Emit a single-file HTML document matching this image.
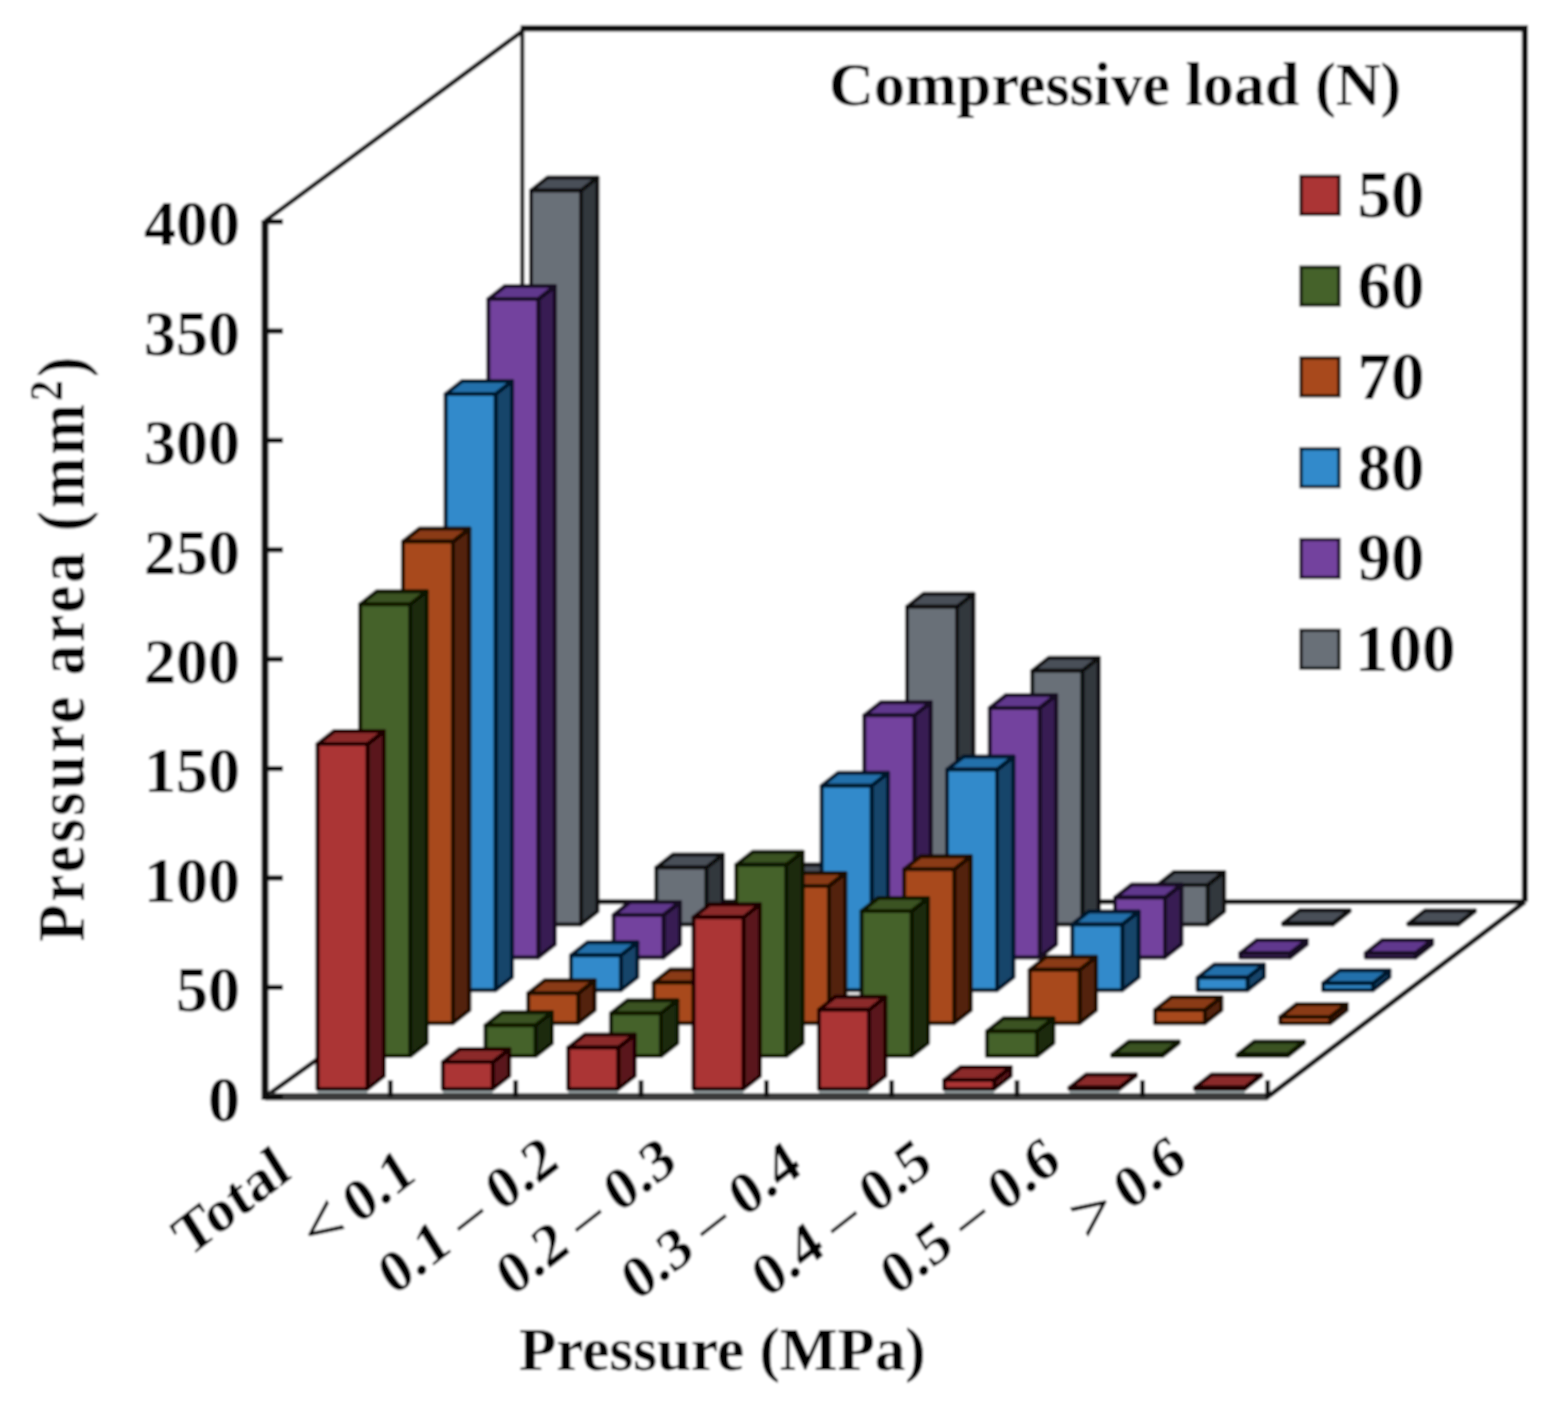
<!DOCTYPE html>
<html><head><meta charset="utf-8"><title>Pressure area chart</title>
<style>html,body{margin:0;padding:0;background:#fff;}svg{display:block;}text{font-family:"Liberation Serif","Times New Roman",serif;font-weight:bold;fill:#000;}</style>
</head><body>
<svg width="1549" height="1402" viewBox="0 0 1549 1402">
<defs><filter id="bl" x="0" y="0" width="1549" height="1402" filterUnits="userSpaceOnUse"><feGaussianBlur stdDeviation="0.8"/></filter></defs>
<g filter="url(#bl)">
<rect width="1549" height="1402" fill="#fff"/>
<g fill="none" stroke="#111" stroke-width="5" stroke-linejoin="miter">
<line stroke="#2a2a2a" stroke-width="4.4" x1="522.2" y1="901.8" x2="522.2" y2="28.3"/>
<polyline stroke-width="6.2" points="520.7,28.3 1524.9,28.3 1524.9,901.8"/>
<line x1="522.2" y1="901.8" x2="1524.9" y2="901.8"/>
<line stroke-width="4.6" x1="265" y1="221" x2="522.2" y2="31.3"/>
<line stroke-width="4.6" x1="265" y1="1096.8" x2="522.2" y2="912.6"/>
</g>
<rect x="317.5" y="1090.2" width="50" height="4.8" fill="#9aa5a7"/>
<rect x="442.8" y="1090.2" width="50" height="4.8" fill="#9aa5a7"/>
<rect x="568.2" y="1090.2" width="50" height="4.8" fill="#9aa5a7"/>
<rect x="693.5" y="1090.2" width="50" height="4.8" fill="#9aa5a7"/>
<rect x="818.9" y="1090.2" width="50" height="4.8" fill="#9aa5a7"/>
<rect x="944.2" y="1090.2" width="50" height="4.8" fill="#9aa5a7"/>
<rect x="1069.5" y="1090.2" width="50" height="4.8" fill="#9aa5a7"/>
<rect x="1194.9" y="1090.2" width="50" height="4.8" fill="#9aa5a7"/>
<g stroke-width="4" stroke-linejoin="round">
<g stroke="#0c0e10">
<polygon fill="#33373c" points="581,924.5 597.5,911.5 597.5,177.5 581,190.5"/>
<polygon fill="#4a5058" points="531,190.5 547.5,177.5 597.5,177.5 581,190.5"/>
<rect fill="#696f78" x="531" y="190.5" width="50" height="734"/>
</g>
<g stroke="#0c0e10">
<polygon fill="#33373c" points="706.3,924.5 722.8,911.5 722.8,854.6 706.3,867.6"/>
<polygon fill="#4a5058" points="656.3,867.6 672.8,854.6 722.8,854.6 706.3,867.6"/>
<rect fill="#696f78" x="656.3" y="867.6" width="50" height="56.9"/>
</g>
<g stroke="#0c0e10">
<polygon fill="#33373c" points="831.7,924.5 848.2,911.5 848.2,864.5 831.7,877.5"/>
<polygon fill="#4a5058" points="781.7,877.5 798.2,864.5 848.2,864.5 831.7,877.5"/>
<rect fill="#696f78" x="781.7" y="877.5" width="50" height="47"/>
</g>
<g stroke="#0c0e10">
<polygon fill="#33373c" points="957,924.5 973.5,911.5 973.5,593.7 957,606.7"/>
<polygon fill="#4a5058" points="907,606.7 923.5,593.7 973.5,593.7 957,606.7"/>
<rect fill="#696f78" x="907" y="606.7" width="50" height="317.8"/>
</g>
<g stroke="#0c0e10">
<polygon fill="#33373c" points="1082.3,924.5 1098.8,911.5 1098.8,657.8 1082.3,670.8"/>
<polygon fill="#4a5058" points="1032.3,670.8 1048.8,657.8 1098.8,657.8 1082.3,670.8"/>
<rect fill="#696f78" x="1032.3" y="670.8" width="50" height="253.7"/>
</g>
<g stroke="#0c0e10">
<polygon fill="#33373c" points="1207.7,924.5 1224.2,911.5 1224.2,871.9 1207.7,884.9"/>
<polygon fill="#4a5058" points="1157.7,884.9 1174.2,871.9 1224.2,871.9 1207.7,884.9"/>
<rect fill="#696f78" x="1157.7" y="884.9" width="50" height="39.6"/>
</g>
<g stroke="#0c0e10">
<polygon fill="#33373c" points="1333,924.5 1349.5,911.5 1349.5,910.2 1333,923.2"/>
<polygon fill="#4a5058" points="1283,923.2 1299.5,910.2 1349.5,910.2 1333,923.2"/>
<rect fill="#696f78" x="1283" y="923.2" width="50" height="1.3"/>
</g>
<g stroke="#0c0e10">
<polygon fill="#33373c" points="1458.4,924.5 1474.9,911.5 1474.9,910.5 1458.4,923.5"/>
<polygon fill="#4a5058" points="1408.4,923.5 1424.9,910.5 1474.9,910.5 1458.4,923.5"/>
<rect fill="#696f78" x="1408.4" y="923.5" width="50" height="1"/>
</g>
<g stroke="#140822">
<polygon fill="#371c52" points="538.3,957.4 554.8,944.4 554.8,286.1 538.3,299.1"/>
<polygon fill="#60378d" points="488.3,299.1 504.8,286.1 554.8,286.1 538.3,299.1"/>
<rect fill="#73429e" x="488.3" y="299.1" width="50" height="658.3"/>
</g>
<g stroke="#140822">
<polygon fill="#371c52" points="663.6,957.4 680.1,944.4 680.1,901.9 663.6,914.9"/>
<polygon fill="#60378d" points="613.6,914.9 630.1,901.9 680.1,901.9 663.6,914.9"/>
<rect fill="#73429e" x="613.6" y="914.9" width="50" height="42.5"/>
</g>
<g stroke="#140822">
<polygon fill="#371c52" points="789,957.4 805.5,944.4 805.5,892 789,905"/>
<polygon fill="#60378d" points="739,905 755.5,892 805.5,892 789,905"/>
<rect fill="#73429e" x="739" y="905" width="50" height="52.4"/>
</g>
<g stroke="#140822">
<polygon fill="#371c52" points="914.3,957.4 930.8,944.4 930.8,702.3 914.3,715.3"/>
<polygon fill="#60378d" points="864.3,715.3 880.8,702.3 930.8,702.3 914.3,715.3"/>
<rect fill="#73429e" x="864.3" y="715.3" width="50" height="242.1"/>
</g>
<g stroke="#140822">
<polygon fill="#371c52" points="1039.7,957.4 1056.2,944.4 1056.2,694.9 1039.7,707.9"/>
<polygon fill="#60378d" points="989.7,707.9 1006.2,694.9 1056.2,694.9 1039.7,707.9"/>
<rect fill="#73429e" x="989.7" y="707.9" width="50" height="249.5"/>
</g>
<g stroke="#140822">
<polygon fill="#371c52" points="1165,957.4 1181.5,944.4 1181.5,884.6 1165,897.6"/>
<polygon fill="#60378d" points="1115,897.6 1131.5,884.6 1181.5,884.6 1165,897.6"/>
<rect fill="#73429e" x="1115" y="897.6" width="50" height="59.8"/>
</g>
<g stroke="#140822">
<polygon fill="#371c52" points="1290.3,957.4 1306.8,944.4 1306.8,940 1290.3,953"/>
<polygon fill="#60378d" points="1240.3,953 1256.8,940 1306.8,940 1290.3,953"/>
<rect fill="#73429e" x="1240.3" y="953" width="50" height="4.4"/>
</g>
<g stroke="#140822">
<polygon fill="#371c52" points="1415.7,957.4 1432.2,944.4 1432.2,940 1415.7,953"/>
<polygon fill="#60378d" points="1365.7,953 1382.2,940 1432.2,940 1415.7,953"/>
<rect fill="#73429e" x="1365.7" y="953" width="50" height="4.4"/>
</g>
<g stroke="#04162a">
<polygon fill="#15446a" points="495.6,990.3 512.1,977.3 512.1,381 495.6,394"/>
<polygon fill="#2370ab" points="445.6,394 462.1,381 512.1,381 495.6,394"/>
<rect fill="#338acb" x="445.6" y="394" width="50" height="596.3"/>
</g>
<g stroke="#04162a">
<polygon fill="#15446a" points="620.9,990.3 637.4,977.3 637.4,942.2 620.9,955.2"/>
<polygon fill="#2370ab" points="570.9,955.2 587.4,942.2 637.4,942.2 620.9,955.2"/>
<rect fill="#338acb" x="570.9" y="955.2" width="50" height="35.1"/>
</g>
<g stroke="#04162a">
<polygon fill="#15446a" points="746.3,990.3 762.8,977.3 762.8,932 746.3,945"/>
<polygon fill="#2370ab" points="696.3,945 712.8,932 762.8,932 746.3,945"/>
<rect fill="#338acb" x="696.3" y="945" width="50" height="45.3"/>
</g>
<g stroke="#04162a">
<polygon fill="#15446a" points="871.6,990.3 888.1,977.3 888.1,772.8 871.6,785.8"/>
<polygon fill="#2370ab" points="821.6,785.8 838.1,772.8 888.1,772.8 871.6,785.8"/>
<rect fill="#338acb" x="821.6" y="785.8" width="50" height="204.5"/>
</g>
<g stroke="#04162a">
<polygon fill="#15446a" points="997,990.3 1013.5,977.3 1013.5,756.6 997,769.6"/>
<polygon fill="#2370ab" points="947,769.6 963.5,756.6 1013.5,756.6 997,769.6"/>
<rect fill="#338acb" x="947" y="769.6" width="50" height="220.7"/>
</g>
<g stroke="#04162a">
<polygon fill="#15446a" points="1122.3,990.3 1138.8,977.3 1138.8,911.4 1122.3,924.4"/>
<polygon fill="#2370ab" points="1072.3,924.4 1088.8,911.4 1138.8,911.4 1122.3,924.4"/>
<rect fill="#338acb" x="1072.3" y="924.4" width="50" height="65.9"/>
</g>
<g stroke="#04162a">
<polygon fill="#15446a" points="1247.6,990.3 1264.1,977.3 1264.1,964.5 1247.6,977.5"/>
<polygon fill="#2370ab" points="1197.6,977.5 1214.1,964.5 1264.1,964.5 1247.6,977.5"/>
<rect fill="#338acb" x="1197.6" y="977.5" width="50" height="12.8"/>
</g>
<g stroke="#04162a">
<polygon fill="#15446a" points="1373,990.3 1389.5,977.3 1389.5,970.2 1373,983.2"/>
<polygon fill="#2370ab" points="1323,983.2 1339.5,970.2 1389.5,970.2 1373,983.2"/>
<rect fill="#338acb" x="1323" y="983.2" width="50" height="7.1"/>
</g>
<g stroke="#1e0a02">
<polygon fill="#532008" points="452.9,1023.2 469.4,1010.2 469.4,528.6 452.9,541.6"/>
<polygon fill="#8a3a12" points="402.9,541.6 419.4,528.6 469.4,528.6 452.9,541.6"/>
<rect fill="#a84a1d" x="402.9" y="541.6" width="50" height="481.6"/>
</g>
<g stroke="#1e0a02">
<polygon fill="#532008" points="578.2,1023.2 594.7,1010.2 594.7,980.3 578.2,993.3"/>
<polygon fill="#8a3a12" points="528.2,993.3 544.7,980.3 594.7,980.3 578.2,993.3"/>
<rect fill="#a84a1d" x="528.2" y="993.3" width="50" height="29.9"/>
</g>
<g stroke="#1e0a02">
<polygon fill="#532008" points="703.6,1023.2 720.1,1010.2 720.1,969.5 703.6,982.5"/>
<polygon fill="#8a3a12" points="653.6,982.5 670.1,969.5 720.1,969.5 703.6,982.5"/>
<rect fill="#a84a1d" x="653.6" y="982.5" width="50" height="40.7"/>
</g>
<g stroke="#1e0a02">
<polygon fill="#532008" points="828.9,1023.2 845.4,1010.2 845.4,872.9 828.9,885.9"/>
<polygon fill="#8a3a12" points="778.9,885.9 795.4,872.9 845.4,872.9 828.9,885.9"/>
<rect fill="#a84a1d" x="778.9" y="885.9" width="50" height="137.3"/>
</g>
<g stroke="#1e0a02">
<polygon fill="#532008" points="954.2,1023.2 970.8,1010.2 970.8,856.2 954.2,869.2"/>
<polygon fill="#8a3a12" points="904.2,869.2 920.8,856.2 970.8,856.2 954.2,869.2"/>
<rect fill="#a84a1d" x="904.2" y="869.2" width="50" height="154"/>
</g>
<g stroke="#1e0a02">
<polygon fill="#532008" points="1079.6,1023.2 1096.1,1010.2 1096.1,956.7 1079.6,969.7"/>
<polygon fill="#8a3a12" points="1029.6,969.7 1046.1,956.7 1096.1,956.7 1079.6,969.7"/>
<rect fill="#a84a1d" x="1029.6" y="969.7" width="50" height="53.5"/>
</g>
<g stroke="#1e0a02">
<polygon fill="#532008" points="1204.9,1023.2 1221.4,1010.2 1221.4,997 1204.9,1010"/>
<polygon fill="#8a3a12" points="1154.9,1010 1171.4,997 1221.4,997 1204.9,1010"/>
<rect fill="#a84a1d" x="1154.9" y="1010" width="50" height="13.2"/>
</g>
<g stroke="#1e0a02">
<polygon fill="#532008" points="1330.3,1023.2 1346.8,1010.2 1346.8,1003.9 1330.3,1016.9"/>
<polygon fill="#8a3a12" points="1280.3,1016.9 1296.8,1003.9 1346.8,1003.9 1330.3,1016.9"/>
<rect fill="#a84a1d" x="1280.3" y="1016.9" width="50" height="6.3"/>
</g>
<g stroke="#0a1204">
<polygon fill="#1e2c10" points="410.2,1056.1 426.7,1043.1 426.7,591.3 410.2,604.3"/>
<polygon fill="#3a5222" points="360.2,604.3 376.7,591.3 426.7,591.3 410.2,604.3"/>
<rect fill="#45622a" x="360.2" y="604.3" width="50" height="451.8"/>
</g>
<g stroke="#0a1204">
<polygon fill="#1e2c10" points="535.5,1056.1 552,1043.1 552,1012.3 535.5,1025.3"/>
<polygon fill="#3a5222" points="485.5,1025.3 502,1012.3 552,1012.3 535.5,1025.3"/>
<rect fill="#45622a" x="485.5" y="1025.3" width="50" height="30.8"/>
</g>
<g stroke="#0a1204">
<polygon fill="#1e2c10" points="660.9,1056.1 677.4,1043.1 677.4,1000.2 660.9,1013.2"/>
<polygon fill="#3a5222" points="610.9,1013.2 627.4,1000.2 677.4,1000.2 660.9,1013.2"/>
<rect fill="#45622a" x="610.9" y="1013.2" width="50" height="42.9"/>
</g>
<g stroke="#0a1204">
<polygon fill="#1e2c10" points="786.2,1056.1 802.7,1043.1 802.7,851.8 786.2,864.8"/>
<polygon fill="#3a5222" points="736.2,864.8 752.7,851.8 802.7,851.8 786.2,864.8"/>
<rect fill="#45622a" x="736.2" y="864.8" width="50" height="191.3"/>
</g>
<g stroke="#0a1204">
<polygon fill="#1e2c10" points="911.6,1056.1 928.1,1043.1 928.1,898.1 911.6,911.1"/>
<polygon fill="#3a5222" points="861.6,911.1 878.1,898.1 928.1,898.1 911.6,911.1"/>
<rect fill="#45622a" x="861.6" y="911.1" width="50" height="145"/>
</g>
<g stroke="#0a1204">
<polygon fill="#1e2c10" points="1036.9,1056.1 1053.4,1043.1 1053.4,1018.3 1036.9,1031.3"/>
<polygon fill="#3a5222" points="986.9,1031.3 1003.4,1018.3 1053.4,1018.3 1036.9,1031.3"/>
<rect fill="#45622a" x="986.9" y="1031.3" width="50" height="24.8"/>
</g>
<g stroke="#0a1204">
<polygon fill="#1e2c10" points="1162.2,1056.1 1178.7,1043.1 1178.7,1041.6 1162.2,1054.6"/>
<polygon fill="#3a5222" points="1112.2,1054.6 1128.7,1041.6 1178.7,1041.6 1162.2,1054.6"/>
<rect fill="#45622a" x="1112.2" y="1054.6" width="50" height="1.5"/>
</g>
<g stroke="#0a1204">
<polygon fill="#1e2c10" points="1287.6,1056.1 1304.1,1043.1 1304.1,1041.6 1287.6,1054.6"/>
<polygon fill="#3a5222" points="1237.6,1054.6 1254.1,1041.6 1304.1,1041.6 1287.6,1054.6"/>
<rect fill="#45622a" x="1237.6" y="1054.6" width="50" height="1.5"/>
</g>
<g stroke="#1e0404">
<polygon fill="#5a181a" points="367.5,1089 384,1076 384,731.1 367.5,744.1"/>
<polygon fill="#8b2a2a" points="317.5,744.1 334,731.1 384,731.1 367.5,744.1"/>
<rect fill="#ab3536" x="317.5" y="744.1" width="50" height="344.9"/>
</g>
<g stroke="#1e0404">
<polygon fill="#5a181a" points="492.8,1089 509.3,1076 509.3,1049.1 492.8,1062.1"/>
<polygon fill="#8b2a2a" points="442.8,1062.1 459.3,1049.1 509.3,1049.1 492.8,1062.1"/>
<rect fill="#ab3536" x="442.8" y="1062.1" width="50" height="26.9"/>
</g>
<g stroke="#1e0404">
<polygon fill="#5a181a" points="618.2,1089 634.7,1076 634.7,1034.6 618.2,1047.6"/>
<polygon fill="#8b2a2a" points="568.2,1047.6 584.7,1034.6 634.7,1034.6 618.2,1047.6"/>
<rect fill="#ab3536" x="568.2" y="1047.6" width="50" height="41.4"/>
</g>
<g stroke="#1e0404">
<polygon fill="#5a181a" points="743.5,1089 760,1076 760,904.2 743.5,917.2"/>
<polygon fill="#8b2a2a" points="693.5,917.2 710,904.2 760,904.2 743.5,917.2"/>
<rect fill="#ab3536" x="693.5" y="917.2" width="50" height="171.8"/>
</g>
<g stroke="#1e0404">
<polygon fill="#5a181a" points="868.9,1089 885.4,1076 885.4,996.8 868.9,1009.8"/>
<polygon fill="#8b2a2a" points="818.9,1009.8 835.4,996.8 885.4,996.8 868.9,1009.8"/>
<rect fill="#ab3536" x="818.9" y="1009.8" width="50" height="79.2"/>
</g>
<g stroke="#1e0404">
<polygon fill="#5a181a" points="994.2,1089 1010.7,1076 1010.7,1067.1 994.2,1080.1"/>
<polygon fill="#8b2a2a" points="944.2,1080.1 960.7,1067.1 1010.7,1067.1 994.2,1080.1"/>
<rect fill="#ab3536" x="944.2" y="1080.1" width="50" height="8.9"/>
</g>
<g stroke="#1e0404">
<polygon fill="#5a181a" points="1119.5,1089 1136,1076 1136,1074.6 1119.5,1087.6"/>
<polygon fill="#8b2a2a" points="1069.5,1087.6 1086,1074.6 1136,1074.6 1119.5,1087.6"/>
<rect fill="#ab3536" x="1069.5" y="1087.6" width="50" height="1.4"/>
</g>
<g stroke="#1e0404">
<polygon fill="#5a181a" points="1244.9,1089 1261.4,1076 1261.4,1074.6 1244.9,1087.6"/>
<polygon fill="#8b2a2a" points="1194.9,1087.6 1211.4,1074.6 1261.4,1074.6 1244.9,1087.6"/>
<rect fill="#ab3536" x="1194.9" y="1087.6" width="50" height="1.4"/>
</g>
</g>
<g fill="none" stroke="#0a0a0a" stroke-width="5.8">
<line stroke="#3a3a3a" stroke-width="7.5" x1="265" y1="1096.8" x2="1267.7" y2="1096.8"/>
<polyline stroke-width="7" points="265,220 265,1100.1"/>
<polyline stroke-width="5" points="1266.2,1097.9 1524.9,901.8"/>
<line stroke-width="5.2" x1="265" y1="1096.8" x2="283" y2="1096.8"/>
<line stroke-width="5.2" x1="265" y1="987.4" x2="283" y2="987.4"/>
<line stroke-width="5.2" x1="265" y1="878" x2="283" y2="878"/>
<line stroke-width="5.2" x1="265" y1="768.6" x2="283" y2="768.6"/>
<line stroke-width="5.2" x1="265" y1="659.2" x2="283" y2="659.2"/>
<line stroke-width="5.2" x1="265" y1="549.8" x2="283" y2="549.8"/>
<line stroke-width="5.2" x1="265" y1="440.4" x2="283" y2="440.4"/>
<line stroke-width="5.2" x1="265" y1="331" x2="283" y2="331"/>
<line stroke-width="5.2" x1="265" y1="221.6" x2="283" y2="221.6"/>
<line stroke-width="4.8" x1="390.3" y1="1096.8" x2="390.3" y2="1080.3"/>
<line stroke-width="4.8" x1="515.7" y1="1096.8" x2="515.7" y2="1080.3"/>
<line stroke-width="4.8" x1="641" y1="1096.8" x2="641" y2="1080.3"/>
<line stroke-width="4.8" x1="766.4" y1="1096.8" x2="766.4" y2="1080.3"/>
<line stroke-width="4.8" x1="891.7" y1="1096.8" x2="891.7" y2="1080.3"/>
<line stroke-width="4.8" x1="1017" y1="1096.8" x2="1017" y2="1080.3"/>
<line stroke-width="4.8" x1="1142.4" y1="1096.8" x2="1142.4" y2="1080.3"/>
<line stroke-width="4.8" x1="1267.7" y1="1096.8" x2="1267.7" y2="1080.3"/>
</g>
<g font-size="64" text-anchor="end">
<text x="240" y="1120.5">0</text>
<text x="240" y="1011.1">50</text>
<text x="240" y="901.7">100</text>
<text x="240" y="792.3">150</text>
<text x="240" y="682.9">200</text>
<text x="240" y="573.5">250</text>
<text x="240" y="464.1">300</text>
<text x="240" y="354.7">350</text>
<text x="240" y="245.3">400</text>
</g>
<text font-size="67" letter-spacing="3.6" transform="translate(84 941.5) rotate(-90) scale(0.9 1)">Pressure area (mm<tspan font-size="46" dy="-22">2</tspan><tspan dy="22">)</tspan></text>
<g font-size="60.6" text-anchor="end">
<text transform="matrix(0.7880 -0.6157 0.5034 0.8056 293 1177)">Total</text>
<text transform="matrix(0.7880 -0.6157 0.5034 0.8056 418 1178.5)"><tspan font-weight="normal" font-size="72" stroke="#000" stroke-width="0.9">&lt;</tspan><tspan dx="-5"> 0.1</tspan></text>
<text transform="matrix(0.7880 -0.6157 0.5034 0.8056 561 1166)">0.1 <tspan font-weight="normal" stroke="#000" stroke-width="0.6">–</tspan> 0.2</text>
<text transform="matrix(0.7880 -0.6157 0.5034 0.8056 679 1167)">0.2 <tspan font-weight="normal" stroke="#000" stroke-width="0.6">–</tspan> 0.3</text>
<text transform="matrix(0.7880 -0.6157 0.5034 0.8056 804 1171.5)">0.3 <tspan font-weight="normal" stroke="#000" stroke-width="0.6">–</tspan> 0.4</text>
<text transform="matrix(0.7880 -0.6157 0.5034 0.8056 934.5 1168.5)">0.4 <tspan font-weight="normal" stroke="#000" stroke-width="0.6">–</tspan> 0.5</text>
<text transform="matrix(0.7880 -0.6157 0.5034 0.8056 1063 1166.5)">0.5 <tspan font-weight="normal" stroke="#000" stroke-width="0.6">–</tspan> 0.6</text>
<text transform="matrix(0.7880 -0.6157 0.5034 0.8056 1189 1165)"><tspan font-weight="normal" font-size="72" stroke="#000" stroke-width="0.9">&gt;</tspan><tspan dx="-4"> 0.6</tspan></text>
</g>
<text font-size="61.1" x="519" y="1369.6">Pressure (MPa)</text>
<text font-size="62.2" x="829" y="104.5">Compressive load (N)</text>
<rect x="1301" y="176.3" width="38" height="38" fill="#ab3536" stroke="#1e0404" stroke-width="3.2"/>
<text font-size="67" x="1357.5" y="217.1">50</text>
<rect x="1301" y="267.1" width="38" height="38" fill="#45622a" stroke="#0a1204" stroke-width="3.2"/>
<text font-size="67" x="1357.5" y="307.9">60</text>
<rect x="1301" y="357.9" width="38" height="38" fill="#a84a1d" stroke="#1e0a02" stroke-width="3.2"/>
<text font-size="67" x="1357.5" y="398.7">70</text>
<rect x="1301" y="448.7" width="38" height="38" fill="#338acb" stroke="#04162a" stroke-width="3.2"/>
<text font-size="67" x="1357.5" y="489.5">80</text>
<rect x="1301" y="539.5" width="38" height="38" fill="#73429e" stroke="#140822" stroke-width="3.2"/>
<text font-size="67" x="1357.5" y="580.3">90</text>
<rect x="1301" y="630.3" width="38" height="38" fill="#696f78" stroke="#0c0e10" stroke-width="3.2"/>
<text font-size="67" x="1355" y="671.1">100</text>
</g>
</svg>
</body></html>
